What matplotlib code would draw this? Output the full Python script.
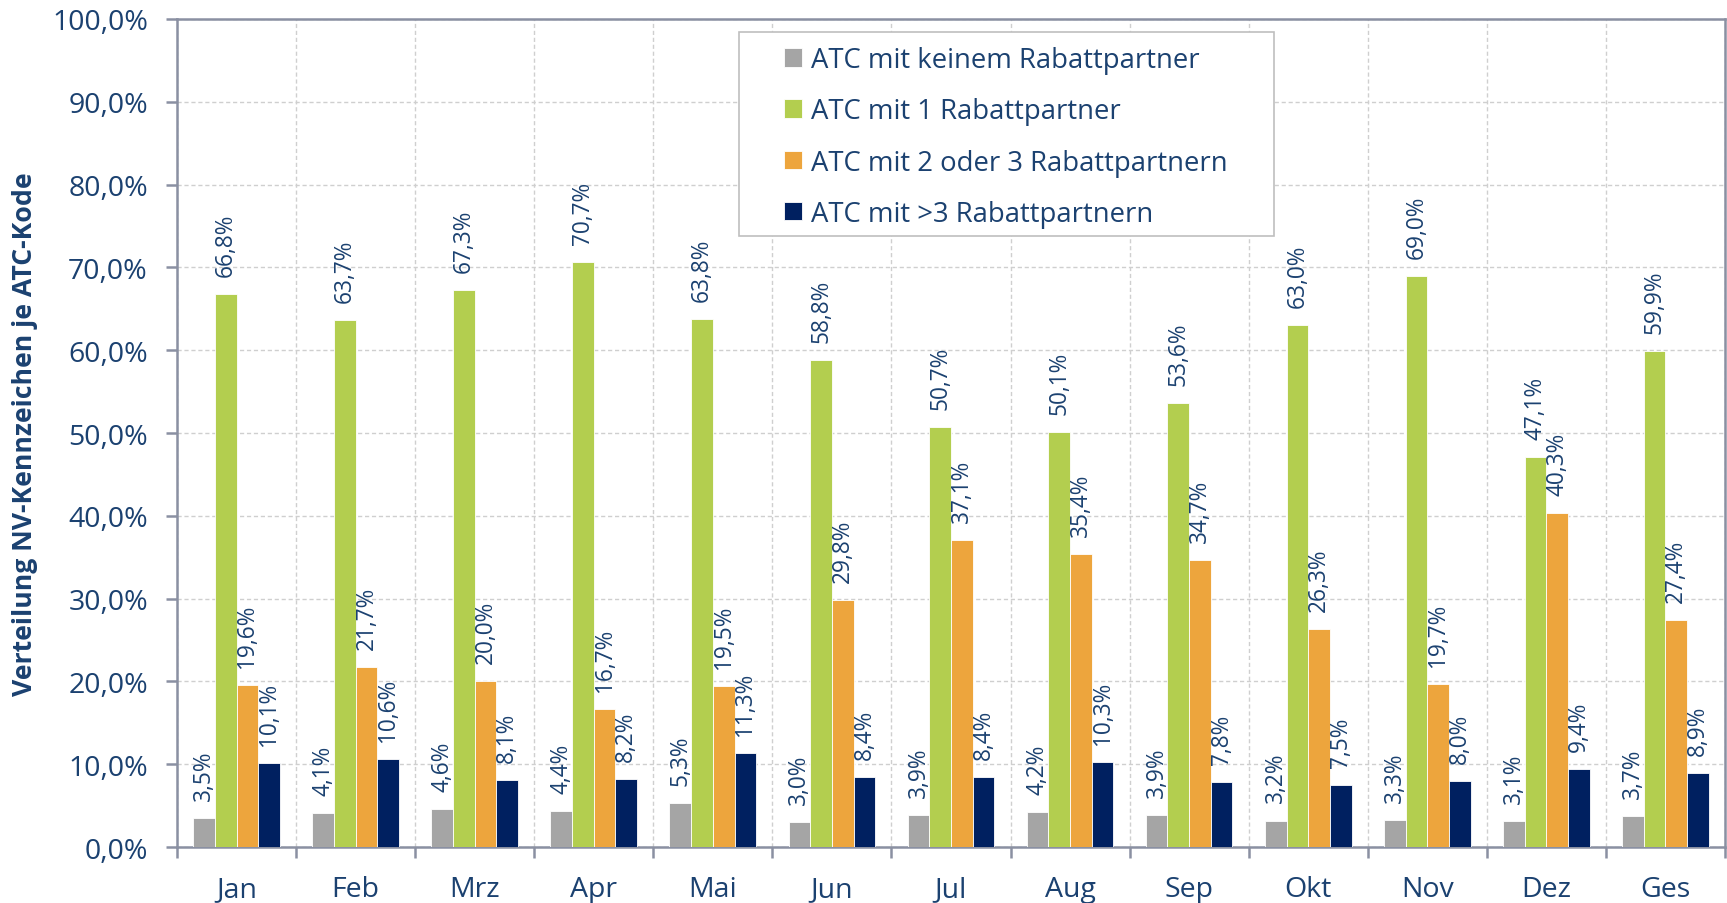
import matplotlib
matplotlib.use("Agg")
import matplotlib.pyplot as plt
import numpy as np
from matplotlib.ticker import FixedLocator, FuncFormatter
from matplotlib.patches import Rectangle

months = ["Jan", "Feb", "Mrz", "Apr", "Mai", "Jun", "Jul", "Aug", "Sep", "Okt", "Nov", "Dez", "Ges"]
series_names = ["ATC mit keinem Rabattpartner", "ATC mit 1 Rabattpartner",
                "ATC mit 2 oder 3 Rabattpartnern", "ATC mit >3 Rabattpartnern"]
keine = [3.5, 4.1, 4.6, 4.4, 5.3, 3.0, 3.9, 4.2, 3.9, 3.2, 3.3, 3.1, 3.7]
eins = [66.8, 63.7, 67.3, 70.7, 63.8, 58.8, 50.7, 50.1, 53.6, 63.0, 69.0, 47.1, 59.9]
zwei_drei = [19.6, 21.7, 20.0, 16.7, 19.5, 29.8, 37.1, 35.4, 34.7, 26.3, 19.7, 40.3, 27.4]
mehr = [10.1, 10.6, 8.1, 8.2, 11.3, 8.4, 8.4, 10.3, 7.8, 7.5, 8.0, 9.4, 8.9]
colors = ["#A5A5A5", "#B3CE4F", "#EDA53D", "#002060"]
txt = "#1B4170"

plt.rcParams['font.family'] = ['Open Sans', 'DejaVu Sans']

fig = plt.figure(figsize=(17.27, 9.04), dpi=100)
ax = fig.add_axes([0.1025, 0.0619, 0.8963, 0.916])

x = np.arange(len(months))
bw = 0.182
all_series = [keine, eins, zwei_drei, mehr]
for i, (vals, c, name) in enumerate(zip(all_series, colors, series_names)):
    pos = x + (i - 1.5) * bw
    ax.bar(pos, vals, width=bw, color=c, label=name, zorder=3,
           edgecolor="white", linewidth=0.6)
    for p, v in zip(pos, vals):
        ax.annotate(f"{v:.1f}%".replace(".", ","), (p, v), xytext=(0, 13),
                    textcoords="offset points", rotation=90, ha="center",
                    va="bottom", fontsize=16.3, color=txt, zorder=4)

ax.set_xlim(-0.5, len(months) - 0.5)
ax.set_ylim(0, 100)
ax.yaxis.set_major_locator(FixedLocator(np.arange(0, 101, 10)))
ax.yaxis.set_major_formatter(FuncFormatter(lambda v, _: f"{v:.1f}%".replace(".", ",")))
ax.set_xticks(x)
ax.set_xticklabels(months)
ax.xaxis.set_minor_locator(FixedLocator(np.arange(-0.5, len(months), 1.0)))
ax.tick_params(axis="x", which="major", length=0, pad=20, labelsize=20.5, labelcolor=txt)
ax.tick_params(axis="x", which="minor", length=8, width=1.8, color="#8A90A2", direction="out")
ax.tick_params(axis="y", which="major", length=8, width=1.8, color="#8A90A2",
               direction="out", labelsize=20.5, labelcolor=txt, pad=13)

ax.grid(axis="y", which="major", linestyle=(0, (3, 2)), color="#CFCFCF", linewidth=1, zorder=0)
ax.grid(axis="x", which="minor", linestyle=(0, (3, 2)), color="#CFCFCF", linewidth=1, zorder=0)
for s in ax.spines.values():
    s.set_color("#8A90A2")
    s.set_linewidth(1.8)

fig.text(0.0145, 0.52, "Verteilung NV-Kennzeichen je ATC-Kode", rotation=90,
         ha="center", va="center", fontsize=19.2, fontweight="bold", color=txt)

box = Rectangle((0.363, 0.738), 0.346, 0.246, transform=ax.transAxes,
                facecolor="white", edgecolor="#BFBFBF", linewidth=1.2, zorder=5)
ax.add_patch(box)
leg = ax.legend(loc="upper left", bbox_to_anchor=(0.392, 0.967), frameon=False,
                fontsize=19.8, labelcolor=txt, handlelength=0.66, handleheight=0.66,
                handletextpad=0.33, labelspacing=0.84, borderpad=0, borderaxespad=0)
leg.set_zorder(6)
for t in leg.get_texts():
    t.set_color(txt)

fig.savefig("out.png", dpi=100)
